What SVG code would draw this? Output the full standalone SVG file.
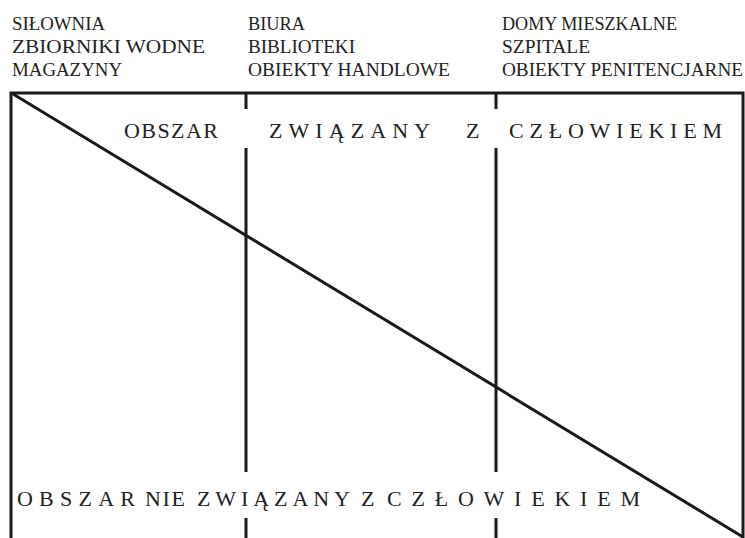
<svg xmlns="http://www.w3.org/2000/svg" width="745" height="538" viewBox="0 0 745 538">
<style>
.lbl{font-family:"Liberation Serif","Times New Roman",serif;font-size:18px;fill:#222;}
.big{font-family:"Liberation Serif","Times New Roman",serif;font-size:22px;fill:#222;}
.ln{stroke:#1a1a1a;stroke-width:3;fill:none;}
</style>
<rect width="745" height="538" fill="#fff"/>
<g id="col1">
<text class="lbl" x="12" y="30" textLength="93" lengthAdjust="spacingAndGlyphs">SIŁOWNIA</text>
<text class="lbl" x="12" y="53" textLength="193" lengthAdjust="spacingAndGlyphs">ZBIORNIKI WODNE</text>
<text class="lbl" x="12" y="76" textLength="110" lengthAdjust="spacingAndGlyphs">MAGAZYNY</text>
</g>
<g id="col2">
<text class="lbl" x="248" y="30" textLength="57" lengthAdjust="spacingAndGlyphs">BIURA</text>
<text class="lbl" x="248" y="53" textLength="107" lengthAdjust="spacingAndGlyphs">BIBLIOTEKI</text>
<text class="lbl" x="248" y="76" textLength="202" lengthAdjust="spacingAndGlyphs">OBIEKTY HANDLOWE</text>
</g>
<g id="col3">
<text class="lbl" x="502" y="30" textLength="175" lengthAdjust="spacingAndGlyphs">DOMY MIESZKALNE</text>
<text class="lbl" x="502" y="53" textLength="88" lengthAdjust="spacingAndGlyphs">SZPITALE</text>
<text class="lbl" x="502" y="76" textLength="241" lengthAdjust="spacingAndGlyphs">OBIEKTY PENITENCJARNE</text>
</g>
<g id="frame">
<path class="ln" d="M11,538 V93 H743 V538"/>
<path class="ln" d="M246,93 V109 M246,148 V472 M246,518 V538"/>
<path class="ln" d="M496,93 V109 M496,148 V472 M496,518 V538"/>
<path class="ln" d="M13,94 L743,537"/>
</g>
<g id="area-top">
<text class="big" x="124" y="138" textLength="94" lengthAdjust="spacing">OBSZAR</text>
<text class="big" x="269" y="138" textLength="161" lengthAdjust="spacing">ZWIĄZANY</text>
<text class="big" x="466" y="138" textLength="14" lengthAdjust="spacing">Z</text>
<text class="big" x="509" y="138" textLength="213" lengthAdjust="spacing">CZŁOWIEKIEM</text>
</g>
<g id="area-bottom">
<text class="big" x="17" y="506" textLength="118" lengthAdjust="spacing">OBSZAR</text>
<text class="big" x="145" y="506" textLength="40" lengthAdjust="spacing">NIE</text>
<text class="big" x="197" y="506" textLength="153" lengthAdjust="spacing">ZWIĄZANY</text>
<text class="big" x="361" y="506" textLength="14" lengthAdjust="spacing">Z</text>
<text class="big" x="387" y="506" textLength="253" lengthAdjust="spacing">CZŁOWIEKIEM</text>
</g>
</svg>
